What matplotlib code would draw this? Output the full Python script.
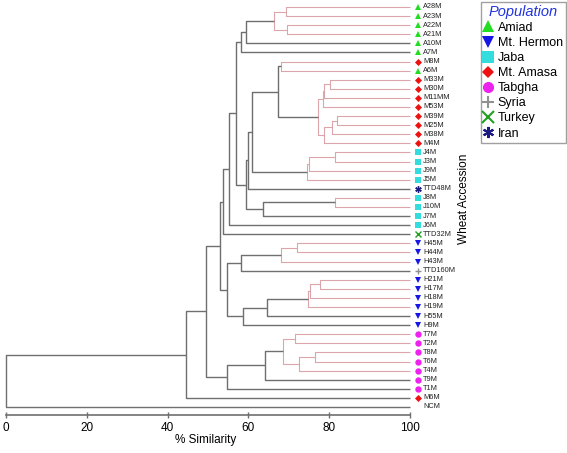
import matplotlib
matplotlib.use("Agg")
import matplotlib.pyplot as plt
from matplotlib.lines import Line2D

plt.rcParams['font.family'] = ['Liberation Sans', 'DejaVu Sans']

# Leaves from top to bottom and their population
leaf_names = ["A28M", "A23M", "A22M", "A21M", "A10M", "A7M", "M8M", "A6M",
              "M33M", "M30M", "M11MM", "M53M", "M39M", "M25M", "M38M", "M4M",
              "J4M", "J3M", "J9M", "J5M", "TTD48M", "J8M", "J10M", "J7M", "J6M",
              "TTD32M", "H45M", "H44M", "H43M", "TTD160M", "H21M", "H17M", "H18M",
              "H19M", "H55M", "H9M", "T7M", "T2M", "T8M", "T6M", "T4M", "T9M",
              "T1M", "M6M", "NCM"]
leaf_groups = ["Amiad"] * 6 + ["Mt. Amasa", "Amiad"] + ["Mt. Amasa"] * 8 + \
              ["Jaba"] * 4 + ["Iran"] + ["Jaba"] * 4 + ["Turkey"] + \
              ["Mt. Hermon"] * 3 + ["Syria"] + ["Mt. Hermon"] * 6 + \
              ["Tabgha"] * 7 + ["Mt. Amasa", None]

# Merges: (node, upper child, lower child, % similarity, pink cluster?)
merges = [
    ("a1", "A28M", "A23M", 69.2, True),
    ("a2", "A22M", "A21M", 69.5, True),
    ("a3", "a1", "a2", 66.4, True),
    ("a4", "a3", "A10M", 59.3, False),
    ("a5", "a4", "A7M", 58.2, False),
    ("m1", "M8M", "A6M", 68.1, True),
    ("m2", "M33M", "M30M", 80.2, True),
    ("m3", "m2", "M11MM", 78.7, True),
    ("m4", "m3", "M53M", 78.4, True),
    ("m5", "M39M", "M25M", 81.9, True),
    ("m6", "m5", "M38M", 80.6, True),
    ("m7", "m6", "M4M", 78.7, True),
    ("m8", "m4", "m7", 77.3, True),
    ("m9", "m1", "m8", 67.4, False),
    ("j1", "J4M", "J3M", 81.4, True),
    ("j2", "j1", "J9M", 75.1, True),
    ("j3", "j2", "J5M", 74.6, True),
    ("j4", "m9", "j3", 60.8, False),
    ("j5", "j4", "TTD48M", 60.0, False),
    ("j6", "J8M", "J10M", 81.4, True),
    ("j7", "j6", "J7M", 63.5, False),
    ("j8", "j5", "j7", 59.4, False),
    ("u1", "a5", "j8", 56.9, False),
    ("u2", "u1", "J6M", 55.2, False),
    ("u3", "u2", "TTD32M", 53.6, False),
    ("h1", "H45M", "H44M", 72.0, True),
    ("h2", "h1", "H43M", 68.1, True),
    ("h3", "h2", "TTD160M", 58.2, False),
    ("h4", "H21M", "H17M", 77.7, True),
    ("h5", "h4", "H18M", 75.2, True),
    ("h6", "h5", "H19M", 74.7, True),
    ("h7", "h6", "H55M", 64.5, False),
    ("h8", "h7", "H9M", 58.6, False),
    ("h9", "h3", "h8", 54.8, False),
    ("u4", "u3", "h9", 53.0, False),
    ("t1", "T7M", "T2M", 71.5, True),
    ("t2", "T8M", "T6M", 76.5, True),
    ("t3", "t2", "T4M", 72.5, True),
    ("t4", "t1", "t3", 68.5, True),
    ("t5", "t4", "T9M", 64.1, False),
    ("t6", "t5", "T1M", 54.8, False),
    ("r1", "u4", "t6", 49.5, False),
    ("r2", "r1", "M6M", 44.6, False),
    ("r3", "r2", "NCM", 0.0, False),
]

x_ticks = [0, 20, 40, 60, 80, 100]

# Population styles
pop_names = ["Amiad", "Mt. Hermon", "Jaba", "Mt. Amasa", "Tabgha", "Syria", "Turkey", "Iran"]
pop_markers = ["^", "v", "s", "D", "o", "+", "x", (6, 2, 0)]
pop_colors = ["#22dd22", "#1515e6", "#33dddd", "#ee1111", "#ee22ee", "#909090", "#22a022", "#1a1a80"]
pop_style = {n: (m, c) for n, m, c in zip(pop_names, pop_markers, pop_colors)}


def marker_kw(m, size, lw):
    # diamonds look bigger than the rest at the same size
    scale = 0.78 if m == "D" else 1.0
    mew = lw if m in ("+", "x", (6, 2, 0)) else 0
    return dict(marker=m, markersize=size * scale, markeredgewidth=mew)


grey = "#6f6f6f"
pink = "#dca4ab"

W, H = 567, 453
fig = plt.figure(figsize=(W / 100, H / 100), dpi=100)
ax = fig.add_axes([6 / W, (H - 415) / H, 404 / W, 415 / H])
ax.set_xlim(0, 100)
row = 9.09
ax.set_ylim((415 - 7) / row, -7 / row)

# positions of all nodes
pos = {name: (100.0, i) for i, name in enumerate(leaf_names)}
for node, top, bot, sim, is_pink in merges:
    xt, yt = pos[top]
    xb, yb = pos[bot]
    col = pink if is_pink else grey
    lw = 0.8 if is_pink else 1.0
    ax.plot([xt, sim, sim, xb], [yt, yt, yb, yb], color=col, lw=lw,
            solid_capstyle='butt', clip_on=False, zorder=2 if not is_pink else 1)
    pos[node] = (sim, (yt + yb) / 2)

# leaf markers and labels
for i, (name, grp) in enumerate(zip(leaf_names, leaf_groups)):
    if grp is not None:
        m, c = pop_style[grp]
        ax.plot(102.0, i, color=c, clip_on=False, zorder=3, **marker_kw(m, 4.6, 1.0))
    ax.text(103.2, i, name, fontsize=5.3, va='center', ha='left', color='#222222',
            clip_on=False)

for s in ["left", "top", "right"]:
    ax.spines[s].set_visible(False)
ax.spines["bottom"].set_color(grey)
ax.spines["bottom"].set_linewidth(1.2)
ax.set_yticks([])
ax.set_xticks(x_ticks)
ax.tick_params(axis='x', direction='inout', length=5, width=1, color=grey,
               labelsize=8.5, pad=2.5)
ax.set_xlabel("% Similarity", fontsize=8.5)
ax.xaxis.set_label_coords(200 / 404, -19 / 415)

fig.text(464 / W, 1 - 199 / H, "Wheat Accession", rotation=90, fontsize=8.5,
         ha='center', va='center')

handles = []
for n, m, c in zip(pop_names, pop_markers, pop_colors):
    handles.append(Line2D([0], [0], color=c, linestyle='none', label=n,
                          **marker_kw(m, 8, 1.5)))
leg = fig.legend(handles=handles, loc='upper right', bbox_to_anchor=(566 / W, 1 - 1.5 / H),
                 fontsize=9, frameon=True, fancybox=False, handlelength=0.7,
                 handletextpad=0.4, labelspacing=0.25, borderpad=0.25,
                 title="Population", borderaxespad=0)
leg.get_title().set_color("#2233dd")
leg.get_title().set_fontstyle("italic")
leg.get_title().set_fontsize(10.5)
leg.get_frame().set_edgecolor("#888888")
leg.get_frame().set_linewidth(1)

fig.savefig("out.png", dpi=100)
